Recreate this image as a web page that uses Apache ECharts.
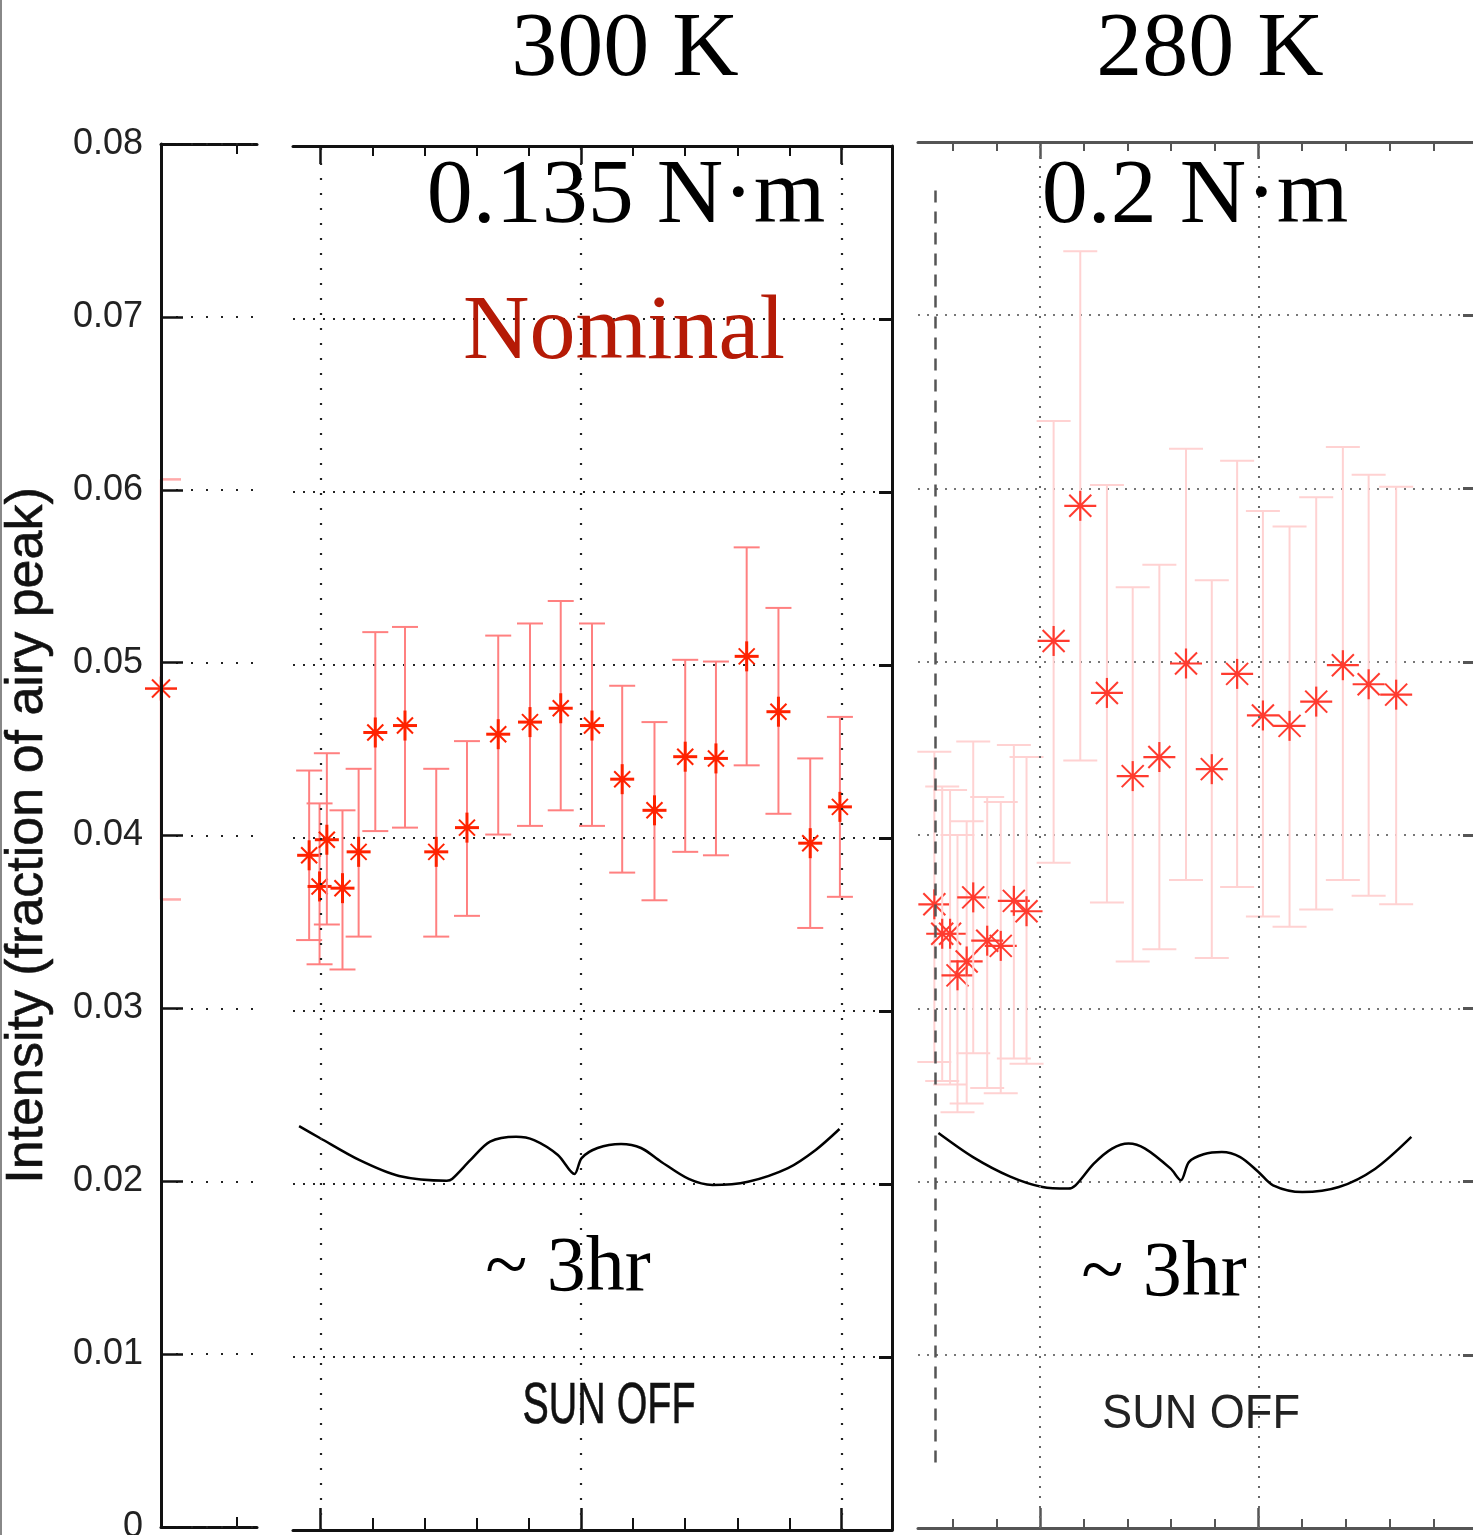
<!DOCTYPE html>
<html><head><meta charset="utf-8">
<script src="https://cdn.jsdelivr.net/npm/echarts@6/dist/echarts.min.js"></script>
<style>html,body{margin:0;padding:0;background:#fff}#c{width:1473px;height:1535px}</style>
</head><body><div id="c"></div>
<script>
// ---- y axis ----
const yMin = 0, yMax = 0.08, yStep = 0.01;
const yTitle = 'Intensity (fraction of airy peak)';

// ---- left strip (cropped previous panel) ----
const leftX = [0];
const leftY = [0.0485];
const leftLow = [0.0363];
const leftHigh = [0.0606];

// ---- middle panel: 300 K, 0.135 N·m, Nominal ----
const midX = [-0.22, -0.02, 0.12, 0.42, 0.73, 1.05, 1.62, 2.22, 2.81, 3.41, 4.02, 4.61, 5.21, 5.79, 6.41, 7.00, 7.59, 8.18, 8.79, 9.40, 9.97];
const midY = [0.0390, 0.0372, 0.0399, 0.0371, 0.0392, 0.0461, 0.0465, 0.0392, 0.0406, 0.0460, 0.0467, 0.0475, 0.0465, 0.0434, 0.0416, 0.0447, 0.0446, 0.0505, 0.0473, 0.0397, 0.0418];
const midHigh = [0.0439, 0.0420, 0.0449, 0.0416, 0.0440, 0.0519, 0.0522, 0.0440, 0.0456, 0.0517, 0.0524, 0.0537, 0.0524, 0.0488, 0.0467, 0.0503, 0.0502, 0.0568, 0.0533, 0.0446, 0.0470];
const midLow = [0.0341, 0.0327, 0.0350, 0.0324, 0.0343, 0.0404, 0.0406, 0.0343, 0.0355, 0.0402, 0.0407, 0.0416, 0.0407, 0.0380, 0.0364, 0.0392, 0.0390, 0.0442, 0.0414, 0.0348, 0.0366];
const midMinorTicks = [1, 2, 3, 4, 6, 7, 8, 9];
const midMajorTicks = [0, 5, 10];
const midBraceX = [-0.413, -0.015, 0.739, 1.507, 2.422, 2.524, 2.879, 3.253, 3.752, 4.098, 4.555, 4.873, 5.012, 5.317, 5.768, 6.152, 6.536, 7.067, 7.524, 8.205, 8.973, 9.505, 9.962];
const midBraceY = [0.02335, 0.02266, 0.02139, 0.02046, 0.02019, 0.02029, 0.02139, 0.02245, 0.02273, 0.02254, 0.02168, 0.02058, 0.02150, 0.02208, 0.02231, 0.02208, 0.02129, 0.02029, 0.01994, 0.02013, 0.02092, 0.02197, 0.02318];

// ---- right panel: 280 K, 0.2 N·m ----
const rightX = [-2.42, -2.24, -2.06, -1.89, -1.68, -1.53, -1.21, -0.90, -0.60, -0.31, 0.31, 0.92, 1.53, 2.12, 2.73, 3.34, 3.93, 4.51, 5.10, 5.71, 6.32, 6.93, 7.52, 8.15];
const rightY = [0.0360, 0.0343, 0.0343, 0.0319, 0.0327, 0.0364, 0.0339, 0.0336, 0.0362, 0.0356, 0.0512, 0.0590, 0.0482, 0.0434, 0.0445, 0.0499, 0.0438, 0.0493, 0.0469, 0.0463, 0.0477, 0.0498, 0.0487, 0.0481];
const rightHigh = [0.0448, 0.0428, 0.0426, 0.0400, 0.0408, 0.0454, 0.0422, 0.0419, 0.0452, 0.0445, 0.0639, 0.0737, 0.0602, 0.0543, 0.0556, 0.0623, 0.0547, 0.0616, 0.0587, 0.0578, 0.0595, 0.0624, 0.0608, 0.0601];
const rightLow = [0.0269, 0.0258, 0.0256, 0.0240, 0.0245, 0.0274, 0.0254, 0.0251, 0.0271, 0.0268, 0.0384, 0.0443, 0.0361, 0.0327, 0.0334, 0.0374, 0.0329, 0.0370, 0.0353, 0.0347, 0.0357, 0.0374, 0.0365, 0.0360];
const rightMinorTicks = [-2, -1, 1, 2, 3, 4, 6, 7, 8, 9];
const rightMajorTicks = [0, 5, 10];
const rightSunOffX = -2.405;
const rightSunOffRange = [0.0033, 0.0772];
const rightBraceX = [-2.327, -1.535, -0.696, 0.057, 0.641, 0.811, 1.230, 1.649, 2.025, 2.403, 2.989, 3.223, 3.406, 3.743, 4.159, 4.581, 4.998, 5.332, 6.001, 6.839, 7.673, 8.497];
const rightBraceY = [0.02280, 0.02141, 0.02030, 0.01968, 0.01959, 0.01978, 0.02103, 0.02190, 0.02219, 0.02190, 0.02074, 0.02007, 0.02112, 0.02157, 0.02170, 0.02141, 0.02055, 0.01978, 0.01939, 0.01968, 0.02074, 0.02257];

const zip4 = (a, b, c, d) => a.map((v, i) => [v, b[i], c[i], d[i]]);
const zip2 = (a, b) => a.map((v, i) => [v, b[i]]);

function makeRender(st) {
  return function (params, api) {
    const x = api.value(0), y = api.value(1), lo = api.value(2), hi = api.value(3);
    const c = api.coord([x, y]);
    const cl = api.coord([x, lo]);
    const ch = api.coord([x, hi]);
    const eb = { stroke: st.barColor, lineWidth: st.barWidth };
    const ch_ = [];
    ch_.push({ type: 'line', shape: { x1: c[0], y1: ch[1], x2: c[0], y2: cl[1] }, style: eb });
    ch_.push({ type: 'line', shape: { x1: c[0] - st.capL, y1: ch[1], x2: c[0] + st.capR, y2: ch[1] }, style: eb });
    ch_.push({ type: 'line', shape: { x1: c[0] - st.capL, y1: cl[1], x2: c[0] + st.capR, y2: cl[1] }, style: eb });
    const sc = st.starColor;
    ch_.push({ type: 'line', shape: { x1: c[0] - st.h, y1: c[1], x2: c[0] + st.h, y2: c[1] }, style: { stroke: sc, lineWidth: st.mw } });
    ch_.push({ type: 'line', shape: { x1: c[0], y1: c[1] - st.v, x2: c[0], y2: c[1] + st.v }, style: { stroke: sc, lineWidth: st.mw } });
    ch_.push({ type: 'line', shape: { x1: c[0] - st.d, y1: c[1] - st.d, x2: c[0] + st.d, y2: c[1] + st.d }, style: { stroke: sc, lineWidth: st.dw } });
    ch_.push({ type: 'line', shape: { x1: c[0] - st.d, y1: c[1] + st.d, x2: c[0] + st.d, y2: c[1] - st.d }, style: { stroke: sc, lineWidth: st.dw } });
    ch_.push({ type: 'circle', shape: { cx: c[0], cy: c[1], r: st.r }, style: { fill: sc } });
    return { type: 'group', children: ch_ };
  };
}

function xAx(grid, min, max, pos, ticks, len, color, showLine, tw) {
  return {
    type: 'value', gridIndex: grid, min: min, max: max, position: pos,
    axisLine: { show: showLine, onZero: false, lineStyle: { color: color, width: 3 } },
    axisTick: { show: true, inside: true, length: len, customValues: ticks, lineStyle: { color: color, width: tw } },
    axisLabel: { show: false }, splitLine: { show: false }
  };
}

const serif = "'Liberation Serif', 'Times New Roman', serif";
const sans = "'Liberation Sans', Arial, sans-serif";

const leftMin = 0, leftMax = 1.263;
const midMin = -0.53, midMax = 10.97;
const rMin = -2.794, rMax = 10.0;

const option = {
  animation: false,
  backgroundColor: '#ffffff',
  grid: [
    { left: 161, top: 144, width: 96, height: 1383, outerBoundsMode: 'none' },
    { left: 293, top: 146, width: 599, height: 1384, outerBoundsMode: 'none' },
    { left: 918, top: 142, width: 559, height: 1386, outerBoundsMode: 'none' }
  ],
  xAxis: [
    xAx(0, leftMin, leftMax, 'bottom', [1], 10, '#111', true, 2),
    xAx(0, leftMin, leftMax, 'top', [1], 10, '#111', true, 2),
    xAx(1, midMin, midMax, 'bottom', midMinorTicks, 12, '#111', true, 2),
    xAx(1, midMin, midMax, 'bottom', midMajorTicks, 22, '#111', false, 2.5),
    xAx(1, midMin, midMax, 'top', midMinorTicks, 10, '#111', true, 2),
    xAx(1, midMin, midMax, 'top', midMajorTicks, 18, '#111', false, 2.5),
    xAx(2, rMin, rMax, 'bottom', rightMinorTicks, 9, '#555', true, 2),
    xAx(2, rMin, rMax, 'bottom', rightMajorTicks, 20, '#555', false, 2.5),
    xAx(2, rMin, rMax, 'top', rightMinorTicks, 9, '#555', true, 2),
    xAx(2, rMin, rMax, 'top', rightMajorTicks, 17, '#555', false, 2.5)
  ],
  yAxis: [
    {
      type: 'value', gridIndex: 0, min: yMin, max: yMax, interval: yStep, position: 'left', z: 6,
      axisLine: { show: true, onZero: false, lineStyle: { color: '#111', width: 3 } },
      axisTick: { show: true, inside: true, length: 22, lineStyle: { color: '#111', width: 2.5 } },
      axisLabel: { show: true, fontSize: 36, color: '#222', fontFamily: sans, margin: 18, padding: [0, 0, 8, 0] },
      splitLine: { show: true, lineStyle: { type: [2, 13], color: '#222', width: 2 } },
      name: yTitle, nameLocation: 'middle', nameGap: 107, nameRotate: 90,
      nameTextStyle: { fontSize: 52, color: '#111', fontFamily: sans, textBorderColor: '#111', textBorderWidth: 0.6 }
    },
    {
      type: 'value', gridIndex: 1, min: yMin, max: yMax, interval: yStep, position: 'right',
      axisLine: { show: true, onZero: false, lineStyle: { color: '#111', width: 3 } },
      axisTick: { show: true, inside: true, length: 13, lineStyle: { color: '#111', width: 3 } },
      axisLabel: { show: false },
      splitLine: { show: true, lineStyle: { type: [2, 8], color: '#222', width: 2 } }
    },
    {
      type: 'value', gridIndex: 2, min: yMin, max: yMax, interval: yStep, position: 'right',
      axisLine: { show: true, onZero: false, lineStyle: { color: '#555', width: 3 } },
      axisTick: { show: true, inside: true, length: 14, lineStyle: { color: '#555', width: 3 } },
      axisLabel: { show: false },
      splitLine: { show: true, lineStyle: { type: [2, 7], color: '#777', width: 2 } }
    }
  ],
  series: [
    {
      type: 'line', xAxisIndex: 2, yAxisIndex: 1, data: zip2(midBraceX, midBraceY),
      smooth: 0.3, symbol: 'none', lineStyle: { color: '#000', width: 2.5 }, z: 3,
      markLine: {
        silent: true, symbol: ['none', 'none'], label: { show: false },
        lineStyle: { type: [2, 13], color: '#222', width: 2.2 },
        data: midMajorTicks.filter(v => v < midMax - 0.5).map(v => ({ xAxis: v }))
      }
    },
    {
      type: 'line', xAxisIndex: 6, yAxisIndex: 2, data: zip2(rightBraceX, rightBraceY),
      smooth: 0.3, symbol: 'none', lineStyle: { color: '#000', width: 2.5 }, z: 3,
      markLine: {
        silent: true, symbol: ['none', 'none'], label: { show: false },
        lineStyle: { type: [2, 8], color: '#666', width: 2 },
        data: rightMajorTicks.filter(v => v < rMax - 0.5).map(v => ({ xAxis: v })).concat([
          [{ coord: [rightSunOffX, rightSunOffRange[1]], lineStyle: { type: [12, 9], color: '#555', width: 2.5 } },
           { coord: [rightSunOffX, rightSunOffRange[0]] }]
        ])
      }
    },
    {
      type: 'custom', xAxisIndex: 0, yAxisIndex: 0, clip: false, z: 4,
      data: zip4(leftX, leftY, leftLow, leftHigh),
      renderItem: makeRender({ barColor: '#ffaaaa', barWidth: 2.5, capL: 0, capR: 20, starColor: '#ff2a10', h: 16, v: 12, d: 9, mw: 2.5, dw: 2, r: 2.5 })
    },
    {
      type: 'custom', xAxisIndex: 2, yAxisIndex: 1, clip: false, z: 4,
      data: zip4(midX, midY, midLow, midHigh),
      renderItem: makeRender({ barColor: '#ff8080', barWidth: 2, capL: 13, capR: 13, starColor: '#ff2200', h: 12, v: 15, d: 8, mw: 3, dw: 2, r: 3 })
    },
    {
      type: 'custom', xAxisIndex: 6, yAxisIndex: 2, clip: false, z: 4,
      data: zip4(rightX, rightY, rightLow, rightHigh),
      renderItem: makeRender({ barColor: '#ffd2d2', barWidth: 2, capL: 17, capR: 17, starColor: '#ff3b2f', h: 16, v: 15, d: 11, mw: 2.2, dw: 2, r: 2.5 })
    }
  ],
  graphic: [
    { type: 'rect', left: 0, top: 0, shape: { width: 2, height: 1535 }, style: { fill: '#888' }, z: 10 },
    { type: 'text', x: 625, y: 51, z: 10, style: { text: '300 K', fontSize: 92, fontFamily: serif, fill: '#000', align: 'center', verticalAlign: 'middle' } },
    { type: 'text', x: 1210, y: 51, z: 10, style: { text: '280 K', fontSize: 92, fontFamily: serif, fill: '#000', align: 'center', verticalAlign: 'middle' } },
    { type: 'text', x: 626, y: 198, z: 10, style: { text: '0.135 N·m', fontSize: 92, fontFamily: serif, fill: '#000', align: 'center', verticalAlign: 'middle' } },
    { type: 'text', x: 1195, y: 198, z: 10, style: { text: '0.2 N·m', fontSize: 92, fontFamily: serif, fill: '#000', align: 'center', verticalAlign: 'middle' } },
    { type: 'text', x: 624, y: 334, z: 10, style: { text: 'Nominal', fontSize: 92, fontFamily: serif, fill: '#b51a06', align: 'center', verticalAlign: 'middle' } },
    { type: 'text', x: 568, y: 1270, z: 10, style: { text: '~ 3hr', fontSize: 78, fontFamily: serif, fill: '#000', align: 'center', verticalAlign: 'middle' } },
    { type: 'text', x: 1164, y: 1275, z: 10, style: { text: '~ 3hr', fontSize: 78, fontFamily: serif, fill: '#000', align: 'center', verticalAlign: 'middle' } },
    { type: 'text', x: 609, y: 1407, scaleX: 0.68, z: 10, style: { text: 'SUN OFF', fontSize: 58, fontFamily: sans, fill: '#111', stroke: '#111', lineWidth: 0.6, align: 'center', verticalAlign: 'middle' } },
    { type: 'text', x: 1201, y: 1414, scaleX: 0.92, z: 10, style: { text: 'SUN OFF', fontSize: 49, fontFamily: sans, fill: '#222', align: 'center', verticalAlign: 'middle' } }
  ]
};

const chart = echarts.init(document.getElementById('c'), null, { renderer: 'canvas' });
chart.setOption(option);
</script>
</body></html>
